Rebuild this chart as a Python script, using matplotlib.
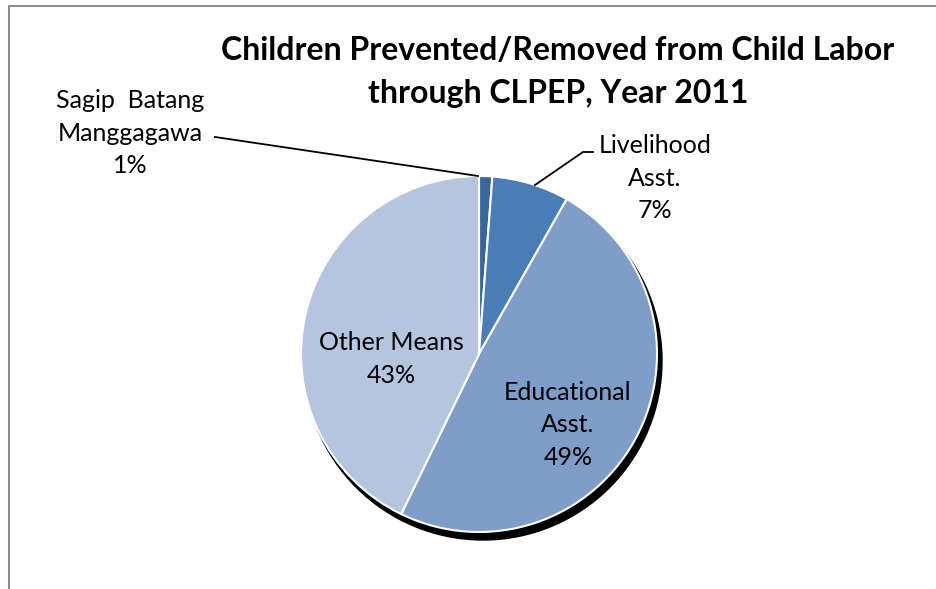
import matplotlib
matplotlib.use("Agg")
import matplotlib.pyplot as plt
from matplotlib.patches import Circle, Rectangle

# slices, clockwise from 12 o'clock
labels = ["Sagip  Batang\nManggagawa", "Livelihood\nAsst.", "Educational\nAsst.", "Other Means"]
shares = [1.2, 7.0, 49.0, 42.8]
colors = ["#3b6699", "#4a7cb6", "#7f9dc9", "#b5c4df"]
title = "Children Prevented/Removed from Child Labor\nthrough CLPEP, Year 2011"

W, H = 937, 589
plt.rcParams["font.family"] = ["Lato", "DejaVu Sans"]

fig = plt.figure(figsize=(W / 100, H / 100), dpi=100)
ax = fig.add_axes([0, 0, 1, 1])
ax.set_xlim(0, W)
ax.set_ylim(0, H)
ax.set_aspect("equal")
ax.axis("off")

# chart frame (right/bottom edges fall outside the picture)
fig.patches.append(Rectangle((9.5 / W, -0.1), 1.2, (H - 5.5) / H + 0.1,
                             transform=fig.transFigure, fill=False,
                             edgecolor="#8c8c8c", linewidth=1.5))

cx, cy, r = 479, H - 354, 178

# shadow
ax.add_patch(Circle((cx + 4, cy - 7), r + 1, color="black", zorder=1))

wedges, _ = ax.pie(shares, colors=colors, startangle=90, counterclock=False,
                   center=(cx, cy), radius=r, frame=True,
                   wedgeprops=dict(edgecolor="white", linewidth=1.5, zorder=2))
ax.set_xlim(0, W)
ax.set_ylim(0, H)
ax.axis("off")

pct = ["%d%%" % round(s) for s in shares]
fs = 18
# label positions in pixels from the top-left
pos = [(130, 133), (655, 178), (568, 425), (391, 359)]
for lab, p, (x, y) in zip(labels, pct, pos):
    ax.text(x, H - y, lab + "\n" + p, ha="center", va="center", fontsize=fs,
            color="black", linespacing=1.5, zorder=5)

# leader lines
ax.plot([215, 478], [H - 137, H - 176], color="black", lw=1.3, zorder=4)
ax.plot([593, 583, 535], [H - 152, H - 152, H - 185], color="black", lw=1.3, zorder=4)

fig.text(558 / W, 1 - 72 / H, title, ha="center", va="center", fontsize=23,
         fontweight="bold", linespacing=1.6)

fig.savefig("out.png", dpi=100)
